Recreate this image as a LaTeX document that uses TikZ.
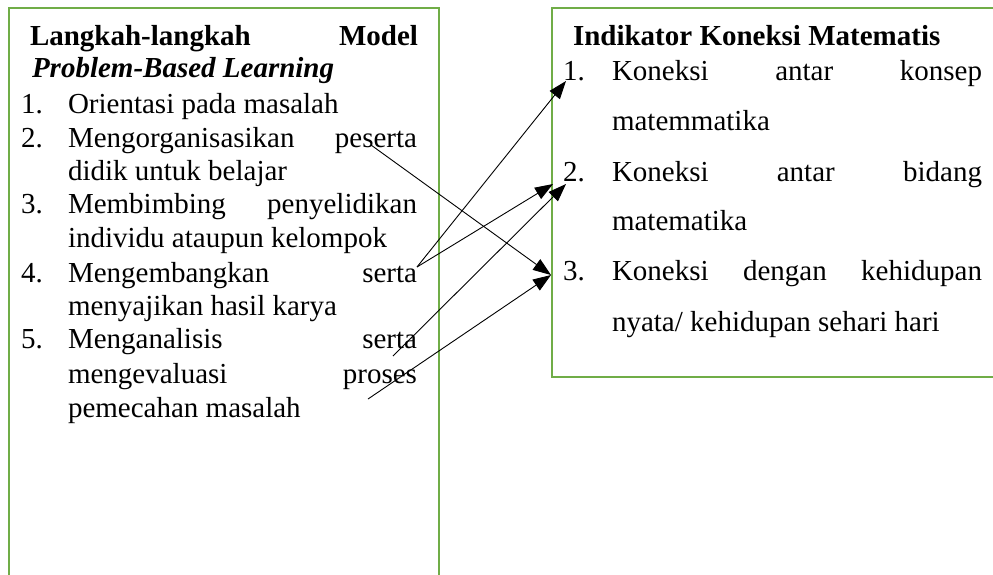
\documentclass[tikz,border=0pt]{standalone}
\usepackage{fontspec}
\setmainfont{Liberation Serif}
\usetikzlibrary{arrows.meta}
\definecolor{boxgreen}{HTML}{70AD47}
\tikzset{
  frame/.style={draw=boxgreen, line width=2.6pt, line join=miter},
  txt/.style={anchor=base west, inner sep=0pt, outer sep=0pt, font=\fontsize{29}{34}\selectfont},
  ttl/.style={txt, font=\fontsize{29}{34}\selectfont\bfseries},
  link/.style={draw=black, line width=0.9pt, -{Triangle[length=18pt,width=13pt]}}
}
\newcommand{\jl}[2]{\makebox[#1pt][s]{#2}}
\begin{document}
\begin{tikzpicture}[x=1pt,y=-1pt]
\useasboundingbox (0,0) rectangle (993,574);
\clip (0,0) rectangle (993,574);
\fill[white] (0,0) rectangle (993,574);
% boxes
\draw[frame] (9,600) -- (9,8) -- (439,8) -- (439,600);
\draw[frame] (1010,8) -- (552,8) -- (552,377) -- (1010,377);
% left box text
\node[ttl] (lt1) at (30,45) {\jl{388}{Langkah-langkah Model}};
\node[ttl] (lt2) at (32,77) {\itshape Problem-Based Learning};
\node[txt] (ln1) at (21,113) {1.};
\node[txt] (l1) at (68,113) {Orientasi pada masalah};
\node[txt] (ln2) at (21,147) {2.};
\node[txt] (l2a) at (68,147) {\jl{349}{Mengorganisasikan peserta}};
\node[txt] (l2b) at (68,180) {didik untuk belajar};
\node[txt] (ln3) at (21,213) {3.};
\node[txt] (l3a) at (68,213) {\jl{349}{Membimbing penyelidikan}};
\node[txt] (l3b) at (68,247) {individu ataupun kelompok};
\node[txt] (ln4) at (21,282) {4.};
\node[txt] (l4a) at (68,282) {\jl{349}{Mengembangkan serta}};
\node[txt] (l4b) at (68,315) {menyajikan hasil karya};
\node[txt] (ln5) at (21,348) {5.};
\node[txt] (l5a) at (68,348) {\jl{349}{Menganalisis serta}};
\node[txt] (l5b) at (68,383) {\jl{349}{mengevaluasi proses}};
\node[txt] (l5c) at (68,417) {pemecahan masalah};
% right box text
\node[ttl] (rt) at (573,45) {Indikator Koneksi Matematis};
\node[txt] (rn1) at (563,80) {1.};
\node[txt] (r1a) at (612,80) {\jl{370}{Koneksi antar konsep}};
\node[txt] (r1b) at (612,130) {matemmatika};
\node[txt] (rn2) at (563,181) {2.};
\node[txt] (r2a) at (612,181) {\jl{370}{Koneksi antar bidang}};
\node[txt] (r2b) at (612,230) {matematika};
\node[txt] (rn3) at (563,280) {3.};
\node[txt] (r3a) at (612,280) {\jl{370}{Koneksi dengan kehidupan}};
\node[txt] (r3b) at (612,331) {nyata/ kehidupan sehari hari};
% connector ends
\coordinate (sPes) at (371,145);
\coordinate (sSerA) at (417,267);
\coordinate (sSerB) at (393,356);
\coordinate (sPro) at (368,399);
\coordinate (e1) at (566,81);
\coordinate (e2a) at (553,184);
\coordinate (e2b) at (566,184);
\coordinate (e3) at (551,275);
% connectors
\draw[link] (sPes) -- (e3);
\draw[link] (sSerA) -- (e1);
\draw[link] (sSerA) -- (e2a);
\draw[link] (sSerB) -- (e2b);
\draw[link] (sPro) -- (e3);
\end{tikzpicture}
\end{document}
